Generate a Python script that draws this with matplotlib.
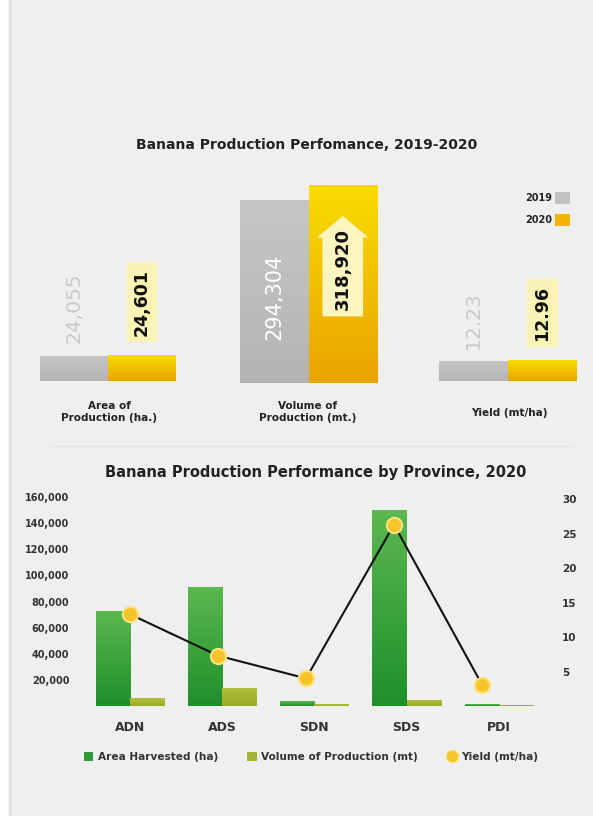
import numpy as np
import matplotlib.pyplot as plt
from matplotlib.patches import Patch, Rectangle
from matplotlib.lines import Line2D
from matplotlib.colors import LinearSegmentedColormap

plt.rcParams['font.family'] = ['DejaVu Sans']

# top chart: 2019 vs 2020
years = ["2019", "2020"]
area_prod = [24055, 24601]
volume_prod = [294304, 318920]
yield_prod = [12.23, 12.96]
group_names = ["Area of\nProduction (ha.)", "Volume of\nProduction (mt.)", "Yield (mt/ha)"]

# bottom chart: by province, 2020
provinces = ["ADN", "ADS", "SDN", "SDS", "PDI"]
area_harvested = [73000, 90800, 3800, 150000, 1200]
volume_mt = [6000, 13800, 1500, 4600, 800]
yield_mt_ha = [13.3, 7.3, 4.0, 26.3, 3.1]
left_ticks = [20000, 40000, 60000, 80000, 100000, 120000, 140000, 160000]
right_ticks = [5, 10, 15, 20, 25, 30]

W, H = 593, 816
BG = "#efefef"
fig = plt.figure(figsize=(W / 100, H / 100), dpi=100, facecolor=BG)


def px_axes(x0, y0, x1, y1):
    ax = fig.add_axes([x0 / W, 1 - y1 / H, (x1 - x0) / W, (y1 - y0) / H])
    ax.patch.set_alpha(0)
    return ax


def grad_fill(ax, rects, top, bottom):
    cmap = LinearSegmentedColormap.from_list("g", [bottom, top])
    grad = np.linspace(0, 1, 256).reshape(-1, 1)
    for r in rects:
        x, y, w, h = r.get_x(), r.get_y(), r.get_width(), r.get_height()
        if h <= 0:
            continue
        im = ax.imshow(grad, extent=[x, x + w, y, y + h], origin="lower",
                       aspect="auto", cmap=cmap, zorder=r.get_zorder() + 0.1)
        im.set_clip_path(r)


# page decoration
fig.patches.append(Rectangle((0, 0), 8 / W, 1, transform=fig.transFigure,
                             facecolor="white", edgecolor="none"))
fig.lines.append(Line2D([10 / W, 10 / W], [0, 1], transform=fig.transFigure,
                        color="#e0e0e0", lw=2))
fig.lines.append(Line2D([49 / W, 573 / W], [1 - 446 / H, 1 - 446 / H],
                        transform=fig.transFigure, color="#e3e3e3", lw=1))

# ---------- top chart ----------
fig.text(307 / W, 1 - 145 / H, "Banana Production Perfomance, 2019-2020",
         ha="center", va="center", fontsize=10, fontweight="bold", color="#222222")

specs = [
    (area_prod, 40, 176, 381, 355, "{:,.0f}"),
    (volume_prod, 240, 377, 383, 185, "{:,.0f}"),
    (yield_prod, 439, 577, 381, 360, "{:.2f}"),
]
label_pos = [(109, 412), (308, 412), (509, 413)]

for k, (vals, x0, x1, yb, ytop, fmt) in enumerate(specs):
    ax = px_axes(x0, 180, x1, yb)
    top = vals[1] * (yb - 180) / (yb - ytop)
    bars = ax.bar([0, 1], vals, width=1.0, color=["#bdbdbd", "#f2c200"], zorder=2)
    grad_fill(ax, [bars[0]], "#c6c6c6", "#b4b4b4")
    grad_fill(ax, [bars[1]], "#f8dc00", "#eaa300")
    ax.set_xlim(-0.5, 1.5)
    ax.set_ylim(0, top)
    ax.axis("off")

    t0, t1 = fmt.format(vals[0]), fmt.format(vals[1])
    if k == 1:
        ax.text(0, top * 0.424, t0, rotation=90, ha="center", va="center",
                fontsize=15, color="white", zorder=5)
        ax.annotate("", xy=(1, top * 0.823), xytext=(1, top * 0.328),
                    arrowprops=dict(arrowstyle="simple,head_length=0.42,head_width=1.0,tail_width=0.79",
                                    mutation_scale=37, fc="#fdf5c0", ec="none",
                                    shrinkA=0, shrinkB=0), zorder=4)
        ax.text(1, top * 0.563, t1, rotation=90, ha="center", va="center",
                fontsize=13, fontweight="bold", color="#111111", zorder=5)
    else:
        ax.annotate(t0, xy=(0, vals[0]), xytext=(0, 9), textcoords="offset points",
                    rotation=90, ha="center", va="bottom", fontsize=14.5, color="#c9c9c9")
        ax.annotate(t1, xy=(1, vals[1]), xytext=(0, 14), textcoords="offset points",
                    rotation=90, ha="center", va="bottom", fontsize=12.5,
                    fontweight="bold", color="#111111",
                    bbox=dict(boxstyle="square,pad=0.35", fc="#fbf2b5", ec="none"))
    lx, ly = label_pos[k]
    fig.text(lx / W, 1 - ly / H, group_names[k], ha="center", va="center",
             fontsize=7.5, fontweight="bold", color="#222222", linespacing=1.3)

# top legend
for yr, col, y in zip(years, ["#c2c2c2", "#f2b400"], [198, 220]):
    fig.text(552 / W, 1 - y / H, yr, ha="right", va="center", fontsize=7,
             fontweight="bold", color="#222222")
    fig.patches.append(Rectangle((555 / W, 1 - (y + 6) / H), 15 / W, 12 / H,
                                 transform=fig.transFigure, facecolor=col, edgecolor="none"))

# ---------- bottom chart ----------
fig.text(316 / W, 1 - 472 / H, "Banana Production Performance by Province, 2020",
         ha="center", va="center", fontsize=10.5, fontweight="bold", color="#222222")

ax1 = px_axes(79, 497, 549.5, 706)
x = np.arange(len(provinces))
bw = 0.37
b1 = ax1.bar(x - bw / 2, area_harvested, width=bw, color="#34a23c", zorder=2)
b2 = ax1.bar(x + bw / 2, volume_mt, width=bw, color="#a5b535", zorder=2)
grad_fill(ax1, b1, "#5cb851", "#1f8f2a")
grad_fill(ax1, b2, "#b3c03c", "#98ab28")
ax1.set_xlim(-0.55, 4.55)
ax1.set_ylim(0, 160000)
ax1.set_yticks(left_ticks)
ax1.set_yticklabels([f"{v:,}" for v in left_ticks])
ax1.set_xticks(x)
ax1.set_xticklabels(provinces)
ax1.tick_params(length=0, colors="#333333")
ax1.tick_params(axis="y", labelsize=7, pad=7)
ax1.tick_params(axis="x", labelsize=9, pad=11)
for lab in ax1.get_xticklabels() + ax1.get_yticklabels():
    lab.set_fontweight("bold")
for s in ax1.spines.values():
    s.set_visible(False)

ax2 = px_axes(79, 497, 549.5, 706)
ax2.plot(x, yield_mt_ha, color="#111111", lw=1.5, zorder=3)
ax2.plot(x, yield_mt_ha, ls="none", marker="o", ms=11, mfc="#f6c42a",
         mec="#fbe480", mew=1.5, zorder=4)
ax2.set_xlim(-0.58, 4.767)
ax2.set_ylim(0, 30.3)
ax2.set_xticks([])
ax2.yaxis.tick_right()
ax2.set_yticks(right_ticks)
ax2.tick_params(length=0, colors="#333333", labelsize=7.5, pad=9)
for lab in ax2.get_yticklabels():
    lab.set_fontweight("bold")
for s in ax2.spines.values():
    s.set_visible(False)

handles = [
    Patch(facecolor="#2f9a37", label="Area Harvested (ha)"),
    Patch(facecolor="#a5b535", label="Volume of Production (mt)"),
    Line2D([], [], ls="none", marker="o", ms=9, mfc="#f6c42a", mec="#fbe480",
           label="Yield (mt/ha)"),
]
fig.legend(handles=handles, loc="center", bbox_to_anchor=(311 / W, 1 - 757 / H),
           ncol=3, frameon=False, handlelength=0.9, handleheight=0.9,
           handletextpad=0.4, columnspacing=2.8,
           prop={"size": 7.6, "weight": "bold"}, labelcolor="#333333")

fig.savefig("out.png", dpi=100, facecolor=BG)
